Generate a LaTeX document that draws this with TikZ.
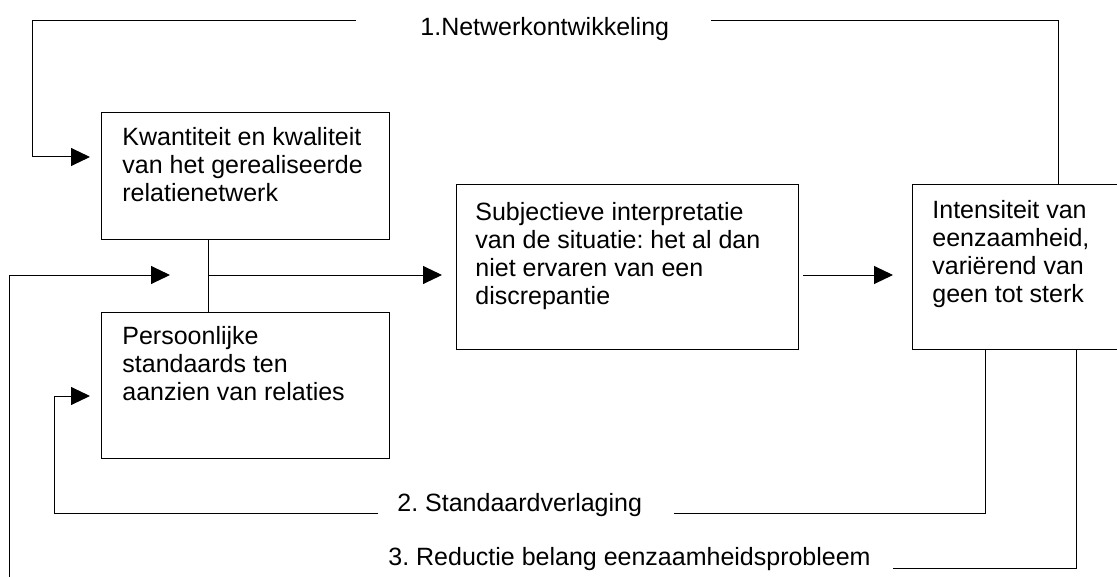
\documentclass[tikz,border=0pt]{standalone}
\usepackage{fontspec}
\setmainfont{Liberation Sans}
\usetikzlibrary{arrows.meta}
\frenchspacing

\begin{document}
\begin{tikzpicture}[x=0.5pt, y=-0.5pt, font=\fontsize{12.5pt}{14pt}\selectfont,
    blok/.style={draw, rectangle, anchor=north west, inner sep=0pt, line width=0.5pt},
    tekst/.style={anchor=north west, inner sep=0pt, align=left},
    lijn/.style={line width=0.5pt},
    pijl/.style={lijn, -{Triangle[length=9.5pt, width=9pt]}}]

              \useasboundingbox (0,0) rectangle (1117,577);
              \clip (0,0) rectangle (1117,577);

              \node [blok, minimum width=144pt, minimum height=63.5pt] (kwantiteit) at (101,112) {};
              \node [blok, minimum width=144pt, minimum height=73pt] (standaards) at (101,312) {};
              \node [blok, minimum width=171pt, minimum height=82.5pt] (interpretatie) at (456,184) {};
              \node [blok, minimum width=106pt, minimum height=82.5pt] (intensiteit) at (912,184) {};

              \node [tekst] (kwantiteittekst) at (122,126.5) {Kwantiteit en kwaliteit\\van het gerealiseerde\\relatienetwerk};
              \node [tekst] (standaardstekst) at (122,325.5) {Persoonlijke\\standaards ten\\aanzien van relaties};
              \node [tekst] (interpretatietekst) at (475,201.5) {Subjectieve interpretatie\\van de situatie: het al dan\\niet ervaren van een\\discrepantie};
              \node [tekst] (intensiteittekst) at (932,200) {Intensiteit van\\eenzaamheid,\\variërend van\\geen tot sterk};

              \node [tekst] (netwerk) at (420,16.5) {1.Netwerkontwikkeling};
              \node [tekst] (verlaging) at (397,492.5) {2. Standaardverlaging};
              \node [tekst] (reductie) at (388,546.5) {3. Reductie belang eenzaamheidsprobleem};

              \coordinate (netwerkR) at (711,21);
              \coordinate (netwerkL) at (356,21);
              \coordinate (hoekNW) at (32,21);
              \coordinate (knoop) at (208,275);
              \coordinate (verlagingR) at (674,513);
              \coordinate (verlagingL) at (378,513);
              \coordinate (hoekZW) at (54,513);
              \coordinate (reductieR) at (893,568);
              \coordinate (terugkoppeling) at (9,585);

              \draw [lijn] ([xshift=73pt]intensiteit.north west) |- (netwerkR);
              \draw [pijl, shorten >=5.5pt] (netwerkL) -- (hoekNW) |- ([yshift=-22.5pt]kwantiteit.north west);

              \draw [lijn] ([xshift=53.5pt]kwantiteit.south west) -- ([xshift=53.5pt]standaards.north west);
              \draw [pijl, shorten >=7pt] (knoop) -- (interpretatie.west |- knoop);
              \draw [pijl, shorten <=2pt, shorten >=9.5pt] (interpretatie.east |- knoop) -- (intensiteit.west |- knoop);

              \draw [lijn] ([xshift=36.5pt]intensiteit.south west) |- (verlagingR);
              \draw [pijl, shorten >=5.5pt] (verlagingL) -- (hoekZW) |- ([yshift=-42pt]standaards.north west);

              \draw [lijn] ([xshift=82pt]intensiteit.south west) |- (reductieR);
              \draw [pijl] (terugkoppeling) |- ([xshift=-19pt]knoop);

            \end{tikzpicture}
\end{document}
